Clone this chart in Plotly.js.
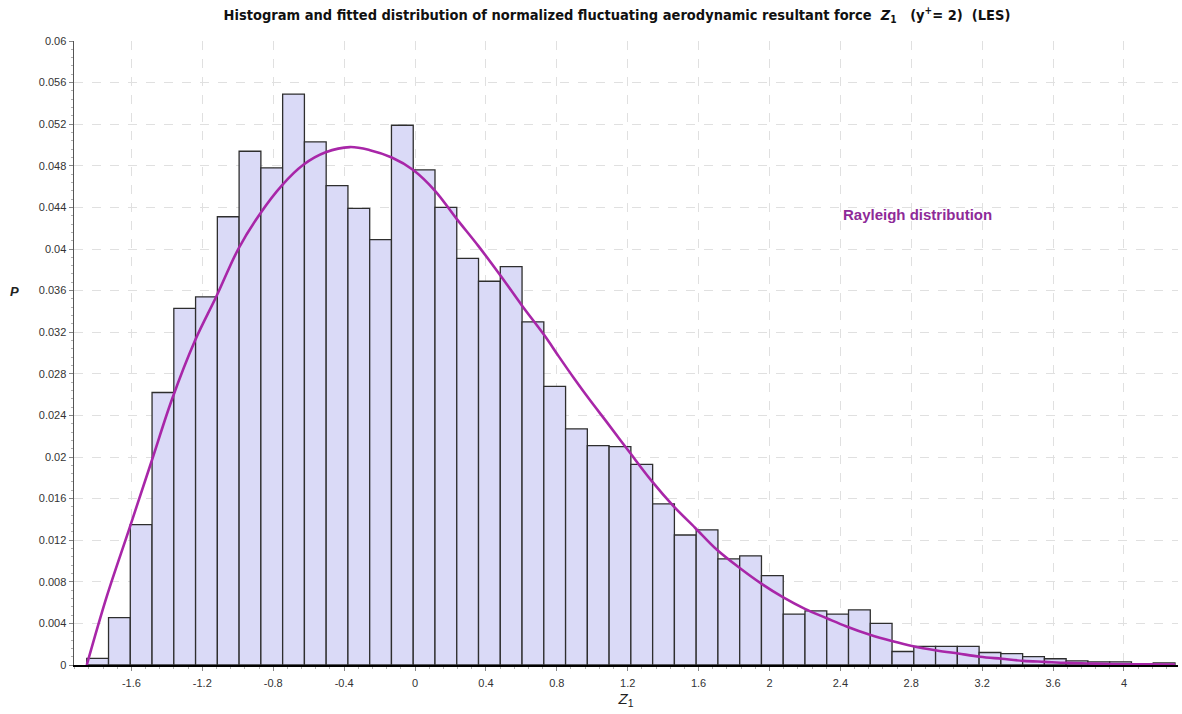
<!DOCTYPE html>
<html>
<head>
<meta charset="utf-8">
<script src="https://cdn.plot.ly/plotly-3.0.1.min.js"></script>
<style>
  html, body { margin: 0; padding: 0; background: #ffffff; }
  #chart { width: 1182px; height: 714px; }
</style>
</head>
<body>
<div id="chart"></div>
<script>
// ---- data ----
// left edge of each histogram bin (Z1)
const binLeft = [
  -1.852, -1.7292, -1.6064, -1.4836, -1.3608, -1.238, -1.1152, -0.9924, -0.8696, -0.7468,
  -0.624, -0.5012, -0.3784, -0.2556, -0.1328, -0.01, 0.1128, 0.2356, 0.3584, 0.4812,
  0.604, 0.7268, 0.8496, 0.9724, 1.0952, 1.218, 1.3408, 1.4636, 1.5864, 1.7092,
  1.832, 1.9548, 2.0776, 2.2004, 2.3232, 2.446, 2.5688, 2.6916, 2.8144, 2.9372,
  3.06, 3.1828, 3.3056, 3.4284, 3.5512, 3.674, 3.7968, 3.9196, 4.0424, 4.1652
];
const binWidth = 0.1228;
// probability of each bin (P)
const binP = [
  0.00064, 0.00455, 0.0135, 0.0262, 0.0343, 0.0354, 0.0431, 0.0494, 0.0478, 0.0549,
  0.0503, 0.0461, 0.0439, 0.0409, 0.0519, 0.0476, 0.0440, 0.0391, 0.0369, 0.0383,
  0.0330, 0.0268, 0.0227, 0.0211, 0.0210, 0.0193, 0.0155, 0.0125, 0.0130, 0.0102,
  0.0105, 0.0086, 0.0049, 0.0052, 0.0049, 0.0053, 0.0040, 0.0013, 0.0018, 0.0018,
  0.0018, 0.0012, 0.0011, 0.0008, 0.0006, 0.0004, 0.0003, 0.0003, 0.0001, 0.0002
];
// fitted Rayleigh curve
const fitX = [
  -1.852, -1.739, -1.614, -1.49, -1.37, -1.241, -1.119, -0.997, -0.874, -0.752,
  -0.63, -0.504, -0.367, -0.254, -0.131, -0.01, 0.113, 0.235, 0.357, 0.48,
  0.602, 0.73, 0.81, 0.9, 0.99, 1.08, 1.213, 1.335, 1.457, 1.58, 1.702, 1.834,
  1.956, 2.078, 2.2, 2.323, 2.435, 2.567, 2.69, 2.811, 2.943, 3.065,
  3.188, 3.31, 3.432, 3.554, 3.677, 3.8, 3.92, 4.1, 4.288
];
const fitP = [
  0, 0.0066, 0.0130, 0.0194, 0.0256, 0.0312, 0.0355, 0.0400, 0.0434, 0.0461,
  0.0481, 0.0493, 0.0498, 0.0495, 0.0488, 0.0476, 0.0456, 0.0429, 0.0403, 0.0375,
  0.0346, 0.0317, 0.0297, 0.0275, 0.0254, 0.0234, 0.0204, 0.0177, 0.0153, 0.0132, 0.0111, 0.0093,
  0.0078, 0.0065, 0.0054, 0.0045, 0.0037, 0.0029, 0.0023, 0.0018, 0.0014, 0.0011,
  0.0008, 0.0006, 0.0004, 0.0003, 0.0002, 0.00015, 0.0001, 0.00006, 0.00004
];
// tick labels
const xTickVals = [-1.6, -1.2, -0.8, -0.4, 0, 0.4, 0.8, 1.2, 1.6, 2, 2.4, 2.8, 3.2, 3.6, 4];
const xTickText = ["-1.6", "-1.2", "-0.8", "-0.4", "0", "0.4", "0.8", "1.2", "1.6", "2", "2.4", "2.8", "3.2", "3.6", "4"];
const yTickVals = [0, 0.004, 0.008, 0.012, 0.016, 0.02, 0.024, 0.028, 0.032, 0.036, 0.04, 0.044, 0.048, 0.052, 0.056, 0.06];
const yTickText = ["0", "0.004", "0.008", "0.012", "0.016", "0.02", "0.024", "0.028", "0.032", "0.036", "0.04", "0.044", "0.048", "0.052", "0.056", "0.06"];

const NB = "\u00a0";
const titleText = "Histogram and fitted distribution of normalized fluctuating aerodynamic resultant force" + NB + NB +
  "<i>Z</i><sub>1</sub>" + NB + NB + NB + "(y<sup>+</sup>= 2)" + NB + NB + "(LES)";

const traces = [
  {
    type: "bar",
    x: binLeft,
    y: binP,
    width: binWidth,
    offset: 0,
    marker: { color: "#dadaf7", line: { color: "#2e2e2e", width: 1.3 } },
    hoverinfo: "skip",
    showlegend: false
  },
  {
    type: "scatter",
    mode: "lines",
    x: fitX,
    y: fitP,
    line: { color: "#a826a8", width: 2.6, shape: "spline", smoothing: 1 },
    hoverinfo: "skip",
    showlegend: false
  }
];

const layout = {
  width: 1182,
  height: 714,
  paper_bgcolor: "#ffffff",
  plot_bgcolor: "#ffffff",
  margin: { l: 74, r: 4, t: 41, b: 49 },
  bargap: 0,
  font: { family: "Liberation Sans, Arial, sans-serif", size: 11, color: "#333333" },
  title: {
    text: titleText,
    font: { family: "Liberation Sans Narrow, DejaVu Sans Condensed, Liberation Sans, sans-serif", size: 14.5, color: "#111111", weight: "bold" },
    xref: "container", x: 0.522, xanchor: "center",
    yref: "container", y: 0.979, yanchor: "middle"
  },
  xaxis: {
    range: [-1.924, 4.305],
    tickmode: "array",
    tickvals: xTickVals,
    ticktext: xTickText,
    ticks: "outside",
    ticklen: 4,
    tickcolor: "#888888",
    ticklabelstandoff: 3,
    showline: true,
    linecolor: "#000000",
    linewidth: 2,
    showgrid: true,
    gridcolor: "#e0e0e0",
    griddash: "dash",
    gridwidth: 1,
    zeroline: false,
    minor: { dtick: 0.08, tick0: 0, ticks: "outside", ticklen: 2, tickcolor: "#b0b0b0", showgrid: false },
    title: { text: "<i>Z</i><sub>1</sub>", font: { size: 15, color: "#222222" }, standoff: 5 }
  },
  yaxis: {
    range: [0, 0.06],
    tickmode: "array",
    tickvals: yTickVals,
    ticktext: yTickText,
    ticks: "outside",
    ticklen: 4,
    tickcolor: "#888888",
    showline: true,
    linecolor: "#555555",
    linewidth: 1.5,
    showgrid: true,
    gridcolor: "#e0e0e0",
    griddash: "dash",
    gridwidth: 1,
    zeroline: false,
    minor: { dtick: 0.0008, tick0: 0, ticks: "outside", ticklen: 2, tickcolor: "#b0b0b0", showgrid: false }
  },
  annotations: [
    {
      x: 2.835, y: 0.0433, xref: "x", yref: "y",
      text: "<b>Rayleigh distribution</b>",
      showarrow: false,
      font: { family: "Liberation Sans, Arial, sans-serif", size: 15, color: "#8e2a98" }
    },
    {
      x: -0.06, y: 0.598, xref: "paper", yref: "paper",
      text: "<b><i>P</i></b>",
      showarrow: false,
      font: { family: "Liberation Sans, Arial, sans-serif", size: 13, color: "#222222" }
    }
  ]
};

Plotly.newPlot("chart", traces, layout, { displayModeBar: false, staticPlot: true });
</script>
</body>
</html>
